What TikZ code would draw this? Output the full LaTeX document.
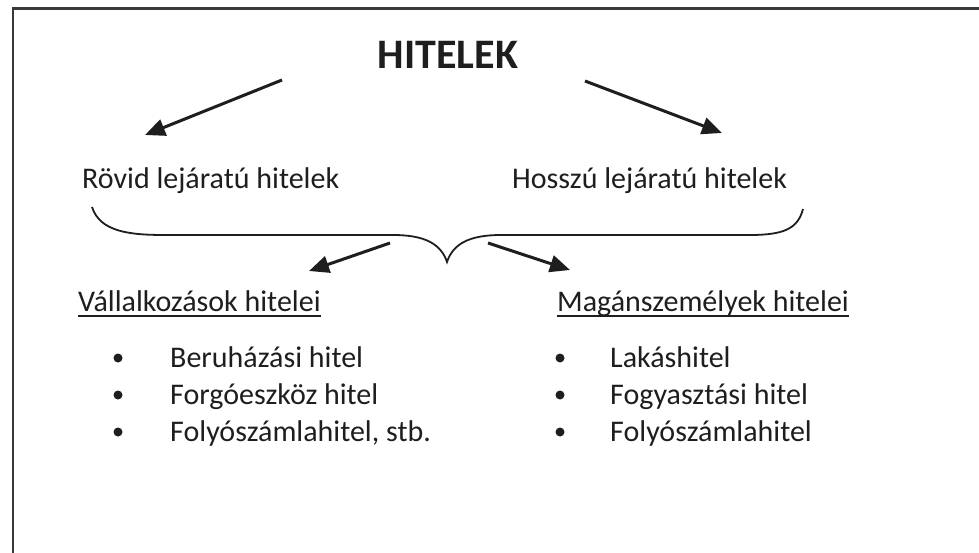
\documentclass[tikz,border=0pt]{standalone}
\usepackage{fontspec}
\setmainfont{Carlito}
\usetikzlibrary{arrows.meta}
\definecolor{ink}{HTML}{1E1E1E}
\definecolor{framec}{HTML}{3A3A3A}
\begin{document}
\begin{tikzpicture}[x=1pt,y=-1pt,
  txt/.style={inner sep=0pt,anchor=base west,text=ink,font=\fontsize{30}{36}\selectfont},
  ttl/.style={inner sep=0pt,anchor=base,text=ink,font=\fontsize{42}{50}\selectfont\bfseries},
  arr/.style={draw=ink,line width=3pt,-{Triangle[length=20pt,width=17pt]}},
  brace/.style={draw=ink,line width=1.8pt},
  dot/.style={circle,fill=ink,inner sep=0pt,minimum size=9pt},
  uline/.style={draw=ink,line width=1.5pt},
  frm/.style={draw=framec,line width=2.5pt}]
\useasboundingbox (0,0) rectangle (979,553);
% frame
\coordinate (fbl) at (13,560);
\coordinate (ftl) at (13,8.5);
\coordinate (ftr) at (990,8.5);
\draw[frm] (fbl) -- (ftl) -- (ftr);
% title
\node[ttl] (title) at (448,69) {HITELEK};
% first level arrows
\coordinate (a1s) at (282,80);
\coordinate (a1e) at (145,135);
\coordinate (a2s) at (585,81);
\coordinate (a2e) at (722,133);
\draw[arr] (a1s) -- (a1e);
\draw[arr] (a2s) -- (a2e);
% labels
\node[txt] (rovid) at (82,189) {Rövid lejáratú hitelek};
\node[txt] (hosszu) at (512,189) {Hosszú lejáratú hitelek};
% brace
\coordinate (bl) at (92,207);
\coordinate (bm) at (447,262);
\coordinate (br) at (803,209);
\draw[brace] (bl) .. controls (100,232) and (130,235) .. (165,235) -- (393,235)
  .. controls (425,235) and (441,244) .. (bm)
  .. controls (453,244) and (469,235) .. (501,235) -- (750,235)
  .. controls (785,235) and (798,228) .. (br);
% second level arrows
\coordinate (b1s) at (390,243);
\coordinate (b1e) at (309,271);
\coordinate (b2s) at (488,243);
\coordinate (b2e) at (570,270);
\draw[arr] (b1s) -- (b1e);
\draw[arr] (b2s) -- (b2e);
% headings
\node[txt] (vall) at (78,311) {Vállalkozások hitelei};
\node[txt] (mag) at (557,311) {Magánszemélyek hitelei};
\draw[uline] ([yshift=-5pt]vall.base west) -- ([yshift=-5pt]vall.base east);
\draw[uline] ([yshift=-5pt]mag.base west) -- ([yshift=-5pt]mag.base east);
% left list
\node[dot] (d1) at (118,358) {};
\node[dot] (d2) at (118,395) {};
\node[dot] (d3) at (118,432) {};
\node[txt] (l1) at (170,367) {Beruházási hitel};
\node[txt] (l2) at (170,404) {Forgóeszköz hitel};
\node[txt] (l3) at (170,441) {Folyószámlahitel, stb.};
% right list
\node[dot] (e1) at (560,358) {};
\node[dot] (e2) at (560,395) {};
\node[dot] (e3) at (560,432) {};
\node[txt] (r1) at (610,367) {Lakáshitel};
\node[txt] (r2) at (610,404) {Fogyasztási hitel};
\node[txt] (r3) at (610,441) {Folyószámlahitel};
\end{tikzpicture}
\end{document}
